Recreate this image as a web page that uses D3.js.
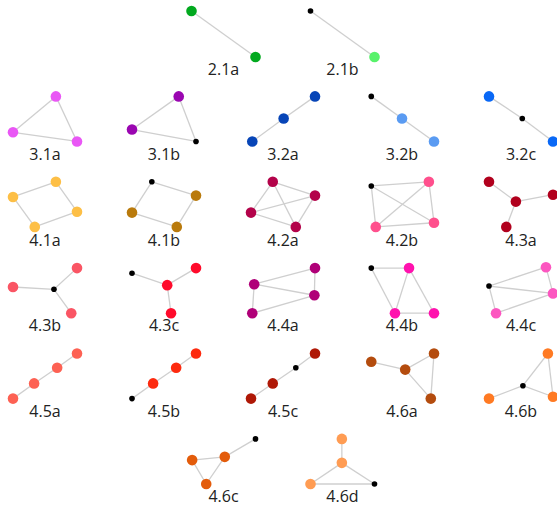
<!DOCTYPE html>
<html>
  <head>
    <title>Graphlets</title>
    <script type="text/javascript" src="https://cdn.jsdelivr.net/npm/d3@7"></script>
    <style type="text/css">
      body {
        margin: 0;
        background: #fff;
      }

      text {
        font-family: "Open Sans", sans-serif;
        font-size: 16px;
        fill: #222;
      }

      line {
        stroke: #cfcfcf;
        stroke-width: 1.3;
      }
    </style>
  </head>
  <body>
  </body>
  <script type="text/javascript">

  // graphlet names, their grid cell and colour
  var labels = ['2.1a','2.1b',
    '3.1a','3.1b','3.2a','3.2b','3.2c',
    '4.1a','4.1b','4.2a','4.2b','4.3a',
    '4.3b','4.3c','4.4a','4.4b','4.4c',
    '4.5a','4.5b','4.5c','4.6a','4.6b',
    '4.6c','4.6d']
  var cellCol = [1.5,2.5, 0,1,2,3,4, 0,1,2,3,4, 0,1,2,3,4, 0,1,2,3,4, 1.5,2.5]
  var cellRow = [0,0, 1,1,1,1,1, 2,2,2,2,2, 3,3,3,3,3, 4,4,4,4,4, 5,5]
  var colors = ['#02a91f','#58f26b',
    '#e957f5','#9a06b1','#0745b7','#5a9bf2','#0968f6',
    '#fdbf46','#b97a0c','#b3034a','#ff508d','#b1001d',
    '#fa5564','#ff0b2b','#b00078','#ff12ae','#fc56c0',
    '#fd6153','#fd2a0f','#af1806','#b44c0e','#ff7a23',
    '#e35c0b','#ff9c53']

  // node layout inside each cell (0..1 both ways), edges, highlighted orbit node
  var nodeX = [[0,1],[0,1],
    [0.67,0,1],[0.73,0,1],[0.02,0.51,1],[0.02,0.5,1],[0,0.52,1],
    [0.67,0,1,0.34],[0.31,1,0,0.7],[0.34,1,0,0.7],[0.02,0.92,0.09,1],[0.42,0,1,0.27],
    [0.64,0,1,0.91],[0.55,0,1,0.61],[0.05,1,0.99,0.02],[0.02,0.61,0.39,1],[0,0.89,1,0.11],
    [0,0.33,0.69,1],[0,0.33,0.69,1],[0,0.34,0.7,1],[0.02,0.55,1,0.95],[0.53,0.92,1,0],
    [1,0.52,0.01,0.23],[0.49,0.49,0,1]]
  var nodeY = [[0,1],[0,1],
    [0,0.78,0.98],[0,0.72,0.98],[0.98,0.48,0],[0,0.48,0.98],[0,0.48,0.98],
    [0,0.33,0.65,0.98],[0,0.3,0.67,0.98],[0,0.3,0.67,0.98],[0.09,0,0.98,0.89],[0.43,0,0.28,0.98],
    [0.48,0.43,0.02,1],[0.39,0.13,0.02,1],[0.37,0.02,0.61,1],[0.02,0.02,1,1],[0.41,0,0.57,1],
    [1,0.67,0.33,0.02],[1,0.67,0.33,0.02],[1,0.67,0.33,0.02],[0.2,0.37,0.02,1],[0.72,0.02,0.96,1],
    [0.02,0.41,0.48,1],[0.02,0.54,1,1]]
  var edges = [[[0,1]],[[0,1]],
    [[0,1],[0,2],[1,2]],[[0,1],[0,2],[1,2]],[[0,1],[1,2]],[[0,1],[1,2]],[[0,1],[1,2]],
    [[0,1],[0,2],[1,3],[2,3]],[[0,1],[0,2],[1,3],[2,3]],
    [[0,1],[0,2],[0,3],[1,2],[1,3],[2,3]],[[0,1],[0,2],[0,3],[1,2],[1,3],[2,3]],
    [[0,1],[0,2],[0,3]],
    [[0,1],[0,2],[0,3]],[[0,1],[0,2],[0,3]],
    [[0,1],[0,2],[0,3],[1,2],[2,3]],[[0,1],[0,2],[1,2],[1,3],[2,3]],[[0,1],[0,2],[0,3],[1,2],[2,3]],
    [[0,1],[1,2],[2,3]],[[0,1],[1,2],[2,3]],[[0,1],[1,2],[2,3]],
    [[0,1],[1,2],[1,3],[2,3]],[[0,1],[0,2],[0,3],[1,2]],
    [[0,1],[1,2],[1,3],[2,3]],[[0,1],[1,2],[1,3],[2,3]]]
  var blackNode = [-1,0, -1,2,-1,0,1, -1,0,-1,0,-1, 0,1,-1,0,0, -1,0,2,-1,0, 0,3]

  var width = 557, height = 508

  var svg = d3.select('body')
    .append('svg')
      .attr('width', width)
      .attr('height', height)

  var colX = d3.scaleLinear().domain([0, 4]).range([45, 521])
  var rowY = d3.scaleLinear().domain([0, 5]).range([75, 502])
  var localX = d3.scaleLinear().domain([0, 1]).range([-32, 32])
  var localY = d3.scaleLinear().domain([0, 1]).range([-64, -18])

  var cells = svg.selectAll('g.cell').data(labels)
    .enter().append('g')
      .attr('class', 'cell')
      .attr('transform', function(d, i) {
        return 'translate(' + colX(cellCol[i]) + ',' + rowY(cellRow[i]) + ')'
      })

  cells.each(function(name, i) {
    var g = d3.select(this)
    var nodes = nodeX[i].map(function(x, j) {
      return { x: localX(x), y: localY(nodeY[i][j]), black: j === blackNode[i] }
    })

    g.selectAll('line').data(edges[i])
      .enter().append('line')
        .attr('x1', function(e) { return nodes[e[0]].x })
        .attr('y1', function(e) { return nodes[e[0]].y })
        .attr('x2', function(e) { return nodes[e[1]].x })
        .attr('y2', function(e) { return nodes[e[1]].y })

    g.selectAll('circle').data(nodes)
      .enter().append('circle')
        .attr('cx', function(n) { return n.x })
        .attr('cy', function(n) { return n.y })
        .attr('r', function(n) { return n.black ? 2.8 : 5.3 })
        .attr('fill', function(n) { return n.black ? '#000' : colors[i] })

    g.append('text')
      .attr('text-anchor', 'middle')
      .text(name)
  })

  </script>
</html>
